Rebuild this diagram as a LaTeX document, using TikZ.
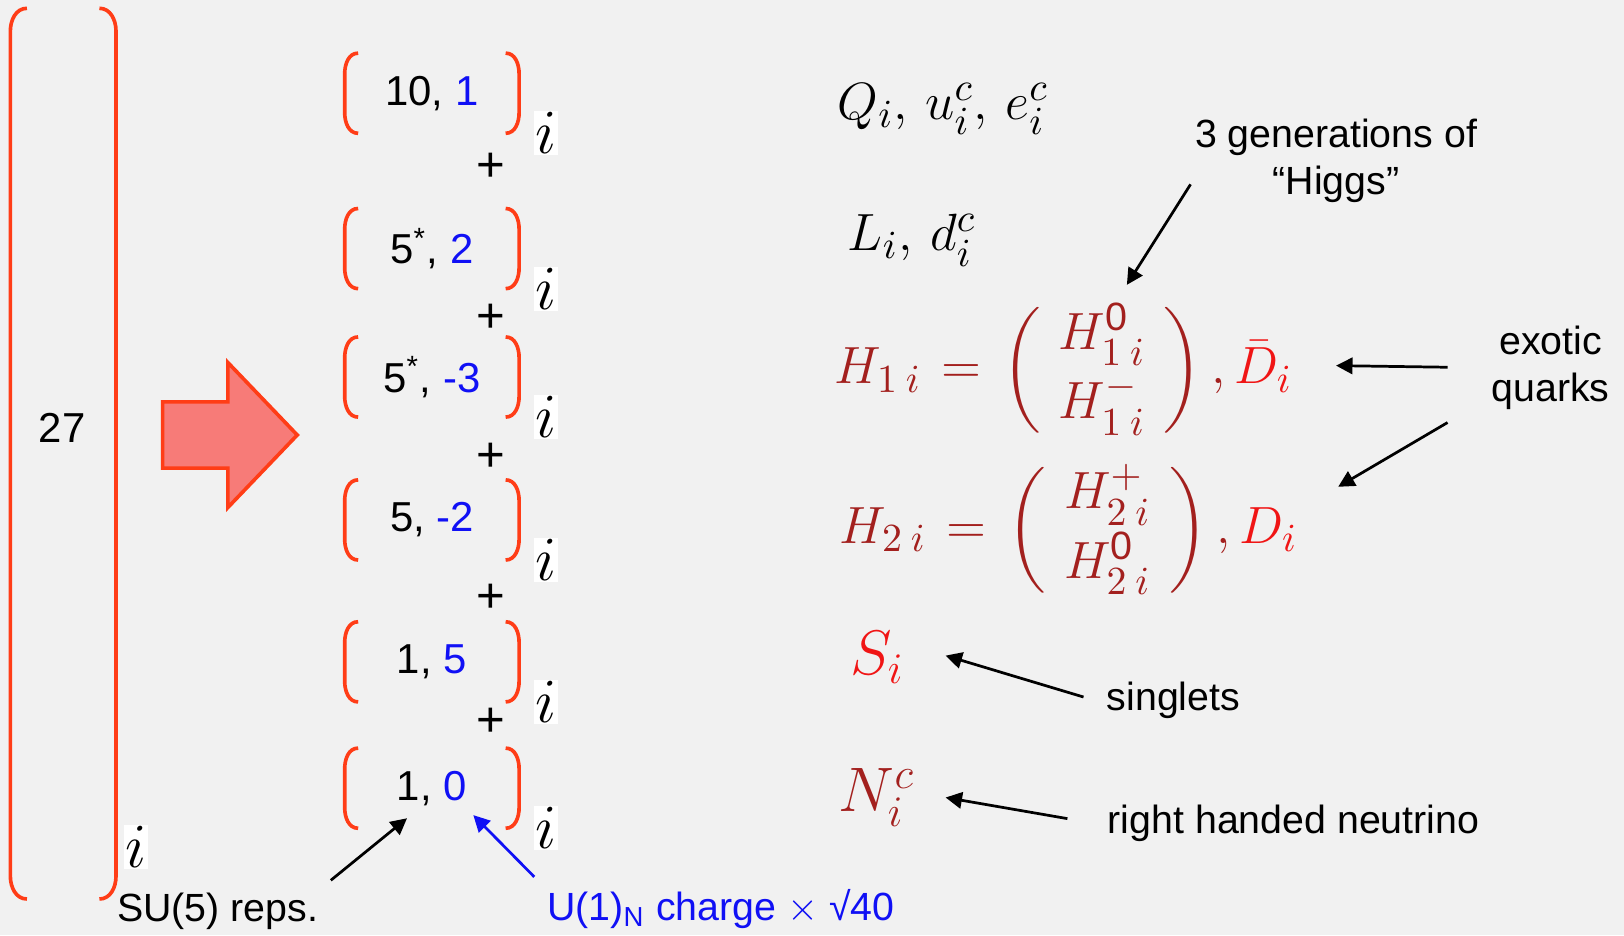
\documentclass[tikz,border=0pt]{standalone}
\usepackage{amsmath}
\usepackage[no-math]{fontspec}
\setmainfont{Liberation Sans}
\usetikzlibrary{arrows.meta, positioning, calc}
\definecolor{paper}{HTML}{F1F1F1}
\definecolor{brkred}{HTML}{FF3D17}
\definecolor{arrfill}{HTML}{F77B78}
\definecolor{chgblue}{HTML}{1010F5}
\definecolor{higgsred}{HTML}{A3201E}
\definecolor{exored}{HTML}{F01515}

\begin{document}
\begin{tikzpicture}[
    repbox/.style={minimum width=1.67cm, minimum height=0.76cm, inner sep=0pt, font=\fontsize{11.5}{13}\selectfont},
    idx/.style={fill=white, inner sep=0.4pt, font=\fontsize{18}{20}\selectfont},
    plus/.style={font=\fontsize{13.5}{15}\selectfont},
    lbl/.style={font=\fontsize{10.8}{13}\selectfont, align=center},
    field/.style={font=\fontsize{15.5}{18}\selectfont, inner sep=0pt, anchor=west},
    bigfield/.style={field, font=\fontsize{18}{21}\selectfont},
    bracket/.style={brkred, line width=1pt},
    arrow/.style={-{Triangle[length=4.5pt, width=4.5pt]}, line width=0.75pt}
]
\useasboundingbox (0,0) rectangle (15.68,-9.03);

% paper
\fill[paper] (0,0) rectangle (15.68,-9.03);

% the 27 and its bracket
\draw[bracket] (0.26,-0.08) to[out=180,in=90] (0.10,-0.30) -- (0.10,-8.46) to[out=-90,in=180] (0.26,-8.68);
\draw[bracket] (0.96,-0.08) to[out=0,in=90] (1.12,-0.30) -- (1.12,-8.46) to[out=-90,in=0] (0.96,-8.68);
\node[font=\fontsize{11.5}{13}\selectfont] (n27) at (0.60,-4.13) {27};
\node[idx] (i27) at (1.31,-8.18) {$i$};

% decomposition arrow
\draw[brkred, fill=arrfill, line width=1pt] (1.57,-3.88) -- (2.20,-3.88) -- (2.20,-3.50) -- (2.87,-4.20)
    -- (2.20,-4.90) -- (2.20,-4.52) -- (1.57,-4.52) -- cycle;

% SU(5) x U(1)_N pieces
\foreach \n/\y/\txt in {1/0.90/{10, \textcolor{chgblue}{1}},
                        2/2.40/{5\textsuperscript{*}, \textcolor{chgblue}{2}},
                        3/3.64/{5\textsuperscript{*}, \textcolor{chgblue}{-3}},
                        4/5.02/{5, \textcolor{chgblue}{-2}},
                        5/6.39/{1, \textcolor{chgblue}{5}},
                        6/7.61/{1, \textcolor{chgblue}{0}}} {
    \node[repbox] (r\n) at (4.17,-\y) {\txt};
    \node[idx, right=0.14cm of r\n.south east] (i\n) {$i$};
    \draw[bracket] ([xshift=3.7pt]r\n.north west) to[out=180,in=90] ([yshift=-5.7pt]r\n.north west)
        -- ([yshift=5.7pt]r\n.south west) to[out=-90,in=180] ([xshift=3.7pt]r\n.south west);
    \draw[bracket] ([xshift=-3.7pt]r\n.north east) to[out=0,in=90] ([yshift=-5.7pt]r\n.north east)
        -- ([yshift=5.7pt]r\n.south east) to[out=-90,in=0] ([xshift=-3.7pt]r\n.south east);
}
\foreach \n/\y in {1/1.62, 2/3.07, 3/4.42, 4/5.78, 5/6.97} {
    \node[plus] (p\n) at (4.74,-\y) {+};
}

% bottom labels
\node[lbl] (su5) at (2.10,-8.80) {SU(5) reps.};
\node[lbl, text=chgblue] (u1n) at (6.96,-8.78) {U(1)\textsubscript{N} charge $\times$ √40};
\coordinate (tipsu) at (3.93,-7.90);
\coordinate (tipu1) at (4.57,-7.87);
\draw[arrow] (su5.north east) -- (tipsu);
\draw[arrow, chgblue] (u1n.north west) -- (tipu1);

% fields
\node[field] (mQ) at (8.08,-1.05) {$Q_i,\, u_i^c,\, e_i^c$};
\node[field] (mL) at (8.18,-2.32) {$L_i,\, d_i^c$};
\node[field] (mH1) at (8.05,-3.58) {$\color{higgsred}H_{1\:i} \mkern2mu=\mkern2mu \left(\begin{array}{c} H^{\text{0}}_{1\:i} \\[1pt] H^{-}_{1\:i} \end{array}\right), \textcolor{exored}{\bar{D}_i}$};
\node[field] (mH2) at (8.10,-5.12) {$\color{higgsred}H_{2\:i} \mkern2mu=\mkern2mu \left(\begin{array}{c} H^{+}_{2\:i} \\[1pt] H^{\text{0}}_{2\:i} \end{array}\right), \textcolor{exored}{D_i}$};
\node[bigfield] (mS) at (8.20,-6.35) {$\color{exored}S_i$};
\node[bigfield] (mN) at (8.09,-7.70) {$\color{higgsred}N_i^c$};

% notes
\node[lbl] (gen) at (12.90,-1.55) {3 generations of\\``Higgs''};
\node[lbl] (exo) at (14.97,-3.55) {exotic\\quarks};
\node[lbl] (singl) at (11.33,-6.76) {singlets};
\node[lbl] (rhn) at (12.49,-7.95) {right handed neutrino};
\coordinate (tiph) at (10.88,-2.75);
\coordinate (tipdb) at (12.90,-3.53);
\coordinate (tipd) at (12.92,-4.70);
\coordinate (tips) at (9.13,-6.33);
\coordinate (tipn) at (9.13,-7.70);
\draw[arrow] ([shift={(0.08,-0.23)}]gen.west) -- (tiph);
\draw[arrow, shorten <=0.3cm] (exo.west) -- (tipdb);
\draw[arrow] ([xshift=-0.3cm]exo.south west) -- (tipd);
\draw[arrow, shorten <=3pt] (singl.west) -- (tips);
\draw[arrow, shorten <=0.27cm] (rhn.west) -- (tipn);

\end{tikzpicture}
\end{document}
